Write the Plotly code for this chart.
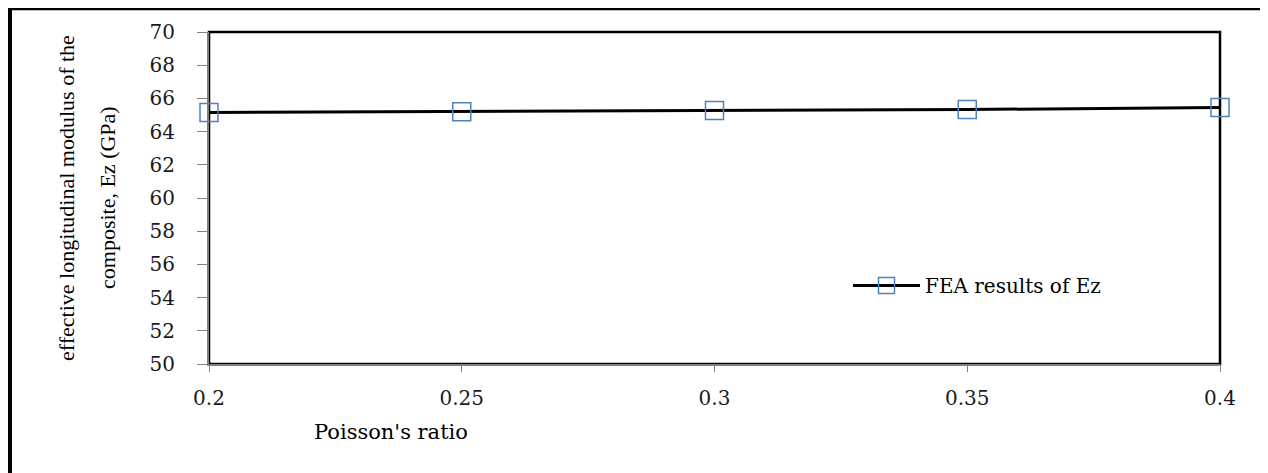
import plotly.graph_objects as go

poisson = [0.2, 0.25, 0.3, 0.35, 0.4]
ez_fea = [65.15, 65.2, 65.27, 65.33, 65.45]
x_ticks = [0.2, 0.25, 0.3, 0.35, 0.4]
x_tick_labels = ["0.2", "0.25", "0.3", "0.35", "0.4"]
y_ticks = [50, 52, 54, 56, 58, 60, 62, 64, 66, 68, 70]

OFF = 8  # default page body margin
W, H = 1268 - OFF, 473 - OFF
L, T = 209 - OFF, 30 - OFF
R = W - (1220 - OFF)
B = H - (364 - OFF)
pw, ph = W - L - R, H - T - B

def px_x(px):
    return (px - OFF - L) / pw

def px_y(py):
    return 1 - (py - OFF - T) / ph

fig = go.Figure()
fig.add_trace(go.Scatter(
    x=poisson, y=ez_fea, mode="lines+markers", name="FEA results of Ez",
    line=dict(color="black", width=3),
    marker=dict(symbol="square-open", size=18, color="#4F81BD", line=dict(width=1.5, color="#4F81BD")),
    cliponaxis=False,
))

tick_font = dict(family="DejaVu Serif", size=20, color="#1a1a1a")
fig.update_layout(
    width=W, height=H,
    margin=dict(l=L, r=R, t=T, b=B),
    paper_bgcolor="white", plot_bgcolor="white",
    showlegend=True,
    legend=dict(x=px_x(848), y=px_y(285), xanchor="left", yanchor="middle",
                bgcolor="rgba(0,0,0,0)", font=dict(family="DejaVu Serif", size=20, color="black"),
                itemwidth=67),
    xaxis=dict(range=[0.2, 0.4], tickvals=x_ticks, ticktext=x_tick_labels,
               showgrid=False, zeroline=False, showline=True, linecolor="#7f7f7f", linewidth=2,
               ticks="outside", ticklen=6, tickcolor="#7f7f7f", tickwidth=1,
               tickfont=tick_font, ticklabelstandoff=9),
    yaxis=dict(range=[50, 70], tickvals=y_ticks,
               showgrid=False, zeroline=False, showline=True, linecolor="#7f7f7f", linewidth=2,
               ticks="outside", ticklen=10, tickcolor="#7f7f7f", tickwidth=1,
               tickfont=tick_font, ticklabelstandoff=18),
    shapes=[
        dict(type="rect", xref="paper", yref="paper", x0=0, x1=1, y0=0, y1=1,
             line=dict(color="black", width=2.5), layer="below"),
        dict(type="rect", xref="paper", yref="paper", x0=px_x(10), x1=px_x(1300),
             y0=px_y(520), y1=px_y(6), line=dict(color="black", width=4)),
    ],
    annotations=[
        dict(text="effective longitudinal modulus of the", xref="paper", yref="paper",
             x=px_x(66), y=px_y(197), xanchor="center", yanchor="middle",
             textangle=-90, showarrow=False,
             font=dict(family="Liberation Serif", size=22, color="black")),
        dict(text="composite, Ez (GPa)", xref="paper", yref="paper",
             x=px_x(107), y=px_y(197), xanchor="center", yanchor="middle",
             textangle=-90, showarrow=False,
             font=dict(family="Liberation Serif", size=22, color="black")),
        dict(text="Poisson's ratio", xref="paper", yref="paper",
             x=px_x(391), y=px_y(432), xanchor="center", yanchor="middle",
             showarrow=False,
             font=dict(family="DejaVu Serif", size=21, color="black")),
    ],
)

fig.write_html("out.html")
